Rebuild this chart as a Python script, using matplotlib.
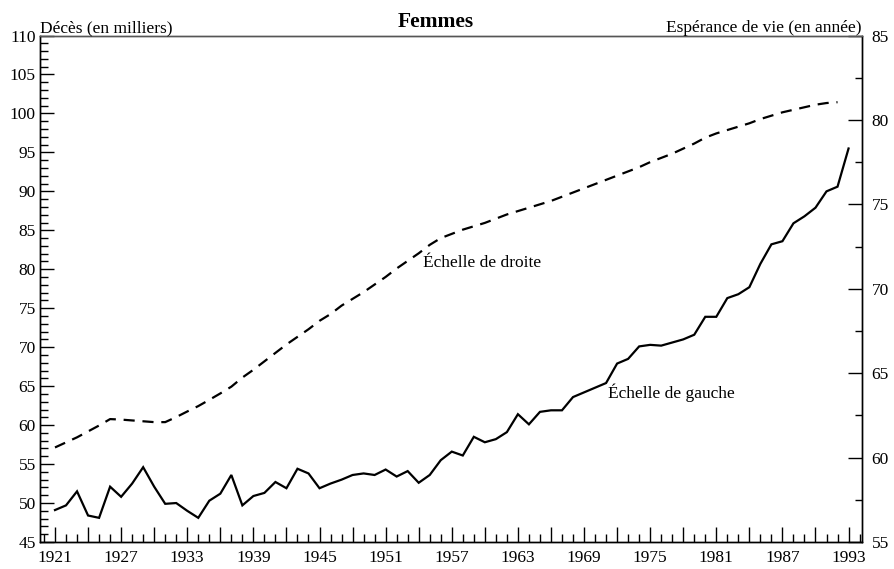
import matplotlib
matplotlib.use("Agg")
import matplotlib.pyplot as plt
from matplotlib.ticker import MultipleLocator, FixedLocator, FixedFormatter

plt.rcParams['font.family'] = ['Liberation Serif', 'DejaVu Serif']

years = list(range(1921, 1994))
deces = [49.1, 49.7, 51.5, 48.4, 48.1, 52.1, 50.8, 52.5, 54.6, 52.1,
         49.9, 50.0, 49.0, 48.1, 50.3, 51.2, 53.6, 49.7, 50.9, 51.3,
         52.7, 51.9, 54.4, 53.8, 51.9, 52.5, 53.0, 53.6, 53.8, 53.6,
         54.3, 53.4, 54.1, 52.6, 53.6, 55.5, 56.6, 56.1, 58.5, 57.8,
         58.2, 59.1, 61.4, 60.1, 61.7, 61.9, 61.9, 63.6, 64.2, 64.8,
         65.4, 67.9, 68.5, 70.1, 70.3, 70.2, 70.6, 71.0, 71.6, 73.9,
         73.9, 76.3, 76.8, 77.7, 80.7, 83.2, 83.6, 85.9, 86.8, 87.9,
         90.0, 90.6, 95.5]

years_ev = list(range(1921, 1993))
esperance = [60.6, 60.9, 61.2, 61.55, 61.9, 62.28, 62.25, 62.2, 62.15, 62.1,
             62.1, 62.4, 62.73, 63.05, 63.42, 63.8, 64.2, 64.74, 65.2, 65.7,
             66.2, 66.7, 67.15, 67.6, 68.1, 68.5, 69.0, 69.4, 69.8, 70.25,
             70.7, 71.2, 71.65, 72.1, 72.6, 73.0, 73.25, 73.5, 73.7, 73.9,
             74.15, 74.4, 74.6, 74.8, 75.0, 75.2, 75.45, 75.7, 75.95, 76.2,
             76.45, 76.7, 76.95, 77.2, 77.5, 77.75, 78.0, 78.3, 78.6, 78.95,
             79.2, 79.4, 79.6, 79.8, 80.05, 80.25, 80.45, 80.6, 80.75, 80.9,
             81.0, 81.05]

xtick_labels = ['1921', '1927', '1933', '1939', '1945', '1951', '1957',
                '1963', '1969', '1975', '1981', '1987', '1993']

title = 'Femmes'
left_label = 'Décès (en milliers)'
right_label = 'Espérance de vie (en année)'
annot_droite = 'Échelle de droite'
annot_gauche = 'Échelle de gauche'

fig = plt.figure(figsize=(8.94, 5.69), dpi=100)
ax = fig.add_axes([40/894, 1 - 542/569, (862-40)/894, (542-35.5)/569])
ax2 = ax.twinx()

ax.plot(years, deces, color='black', lw=1.6, solid_joinstyle='miter')
ax2.plot(years_ev, esperance, color='black', lw=1.6, dashes=(5, 3.5))

ax.set_xlim(1919.64, 1994.22)
ax.set_ylim(45, 110)
ax2.set_ylim(55, 85)

major_x = list(range(1921, 1994, 3))
lab_map = {int(s): s for s in xtick_labels}
ax.xaxis.set_major_locator(FixedLocator(major_x))
ax.xaxis.set_major_formatter(FixedFormatter([lab_map.get(y, '') for y in major_x]))
ax.xaxis.set_minor_locator(MultipleLocator(1))
ax.yaxis.set_major_locator(MultipleLocator(5))
ax.yaxis.set_minor_locator(MultipleLocator(1))
ax2.yaxis.set_major_locator(MultipleLocator(5))
ax2.yaxis.set_minor_locator(MultipleLocator(2.5))

ax.tick_params(axis='x', which='major', direction='in', length=11, width=1,
               labelsize=12.5, pad=6, top=False)
ax.tick_params(axis='x', which='minor', direction='in', length=6, width=1, top=False)
ax.tick_params(axis='y', which='major', direction='in', length=10, width=1,
               labelsize=12.5, pad=3, right=False)
ax.tick_params(axis='y', which='minor', direction='in', length=6, width=1, right=False)
ax2.tick_params(axis='y', which='major', direction='in', length=10, width=1,
                labelsize=12.5, pad=7)
ax2.tick_params(axis='y', which='minor', direction='in', length=5, width=1)

for a in (ax, ax2):
    for s in a.spines.values():
        s.set_linewidth(1.0)
ax.spines['top'].set_color('#555555')
ax2.spines['top'].set_color('#555555')

fig.text(436/894, 1 - 22/569, title, ha='center', va='center',
         fontsize=15.5, fontweight='bold')
fig.text(40/894, 1 - 32/569, left_label, ha='left', va='baseline', fontsize=12.5)
fig.text(862/894, 1 - 32/569, right_label, ha='right', va='baseline', fontsize=12.5)

ax2.annotate(annot_droite, xy=(1954.4, 72.3), xytext=(423/894, 1 - 263/569),
             textcoords='figure fraction', ha='left', va='center', fontsize=12.5)
ax.annotate(annot_gauche, xy=(1971, 65.4), xytext=(608/894, 1 - 393/569),
            textcoords='figure fraction', ha='left', va='center', fontsize=12.5)

fig.savefig('out.png', dpi=100)
